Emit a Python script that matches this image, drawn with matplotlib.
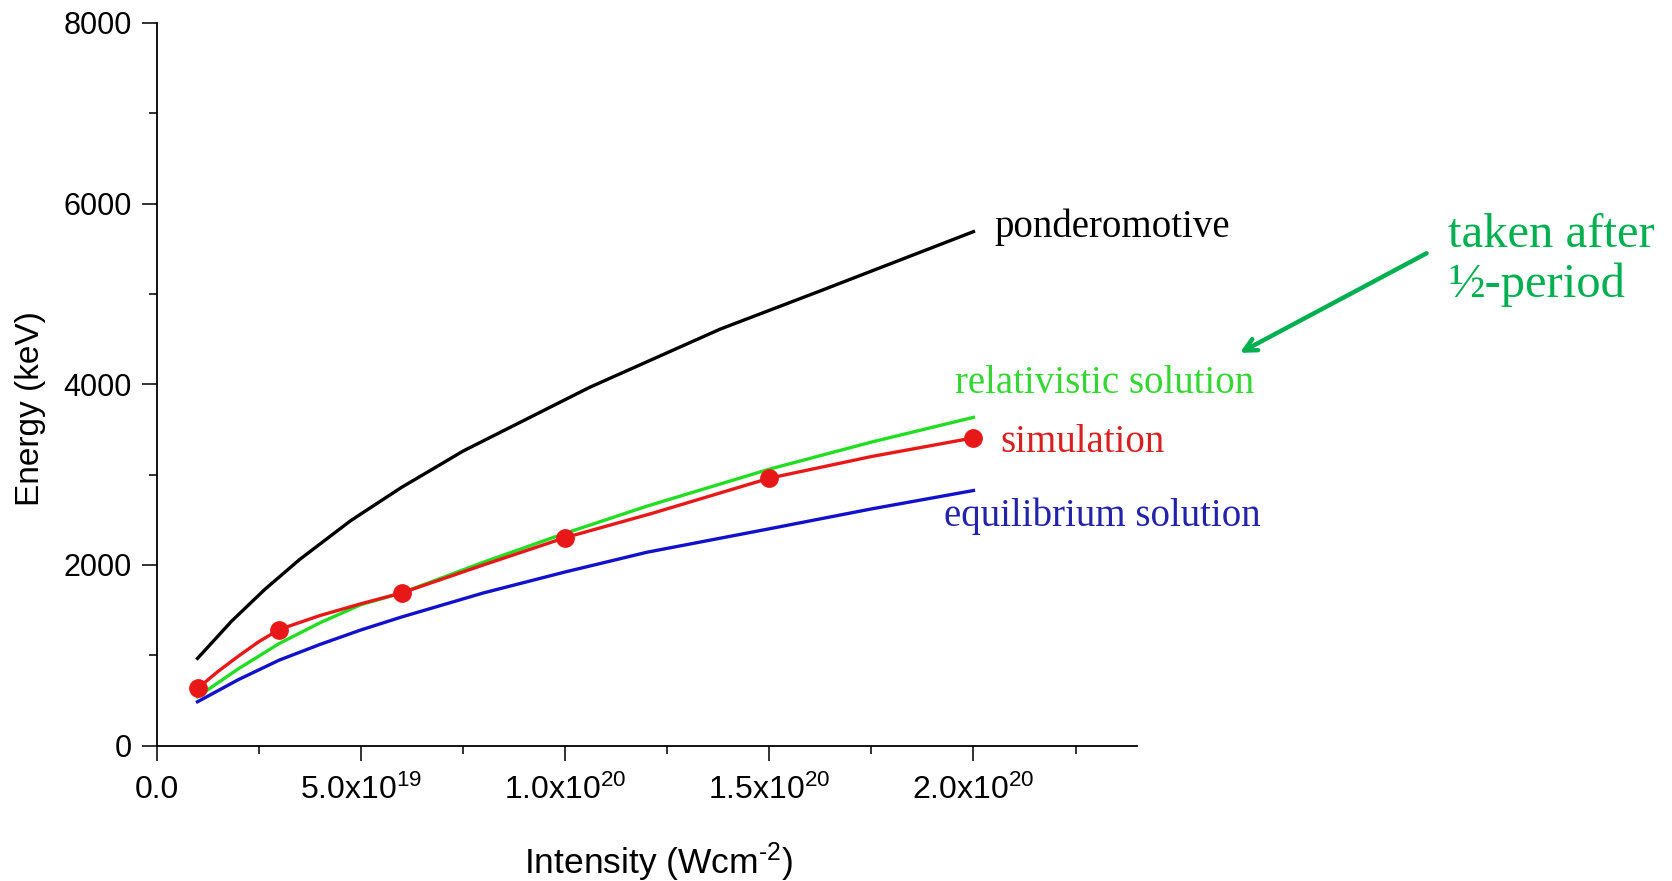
import matplotlib
matplotlib.use('Agg')
import matplotlib.pyplot as plt
from matplotlib.ticker import MultipleLocator, FixedLocator, FixedFormatter

plt.rcParams['font.family'] = ['Liberation Sans', 'DejaVu Sans']
plt.rcParams['mathtext.fontset'] = 'custom'
plt.rcParams['mathtext.rm'] = 'Liberation Sans'
plt.rcParams['mathtext.it'] = 'Liberation Sans:italic'

# values (intensity in W/cm^2, energy in keV)
pond_x = [1.0e19, 1.84e19, 2.65e19, 3.5e19, 4.75e19, 6.0e19, 6.94e19, 7.5e19,
          1.06e20, 1.38e20, 1.625e20, 2.0e20]
pond_y = [965, 1380, 1730, 2060, 2490, 2860, 3110, 3260, 3966, 4611, 5034, 5690]

rel_x = [1.0e19, 2.0e19, 3.0e19, 4.0e19, 5.0e19, 6.0e19, 8.0e19, 1.0e20,
         1.2e20, 1.5e20, 1.75e20, 2.0e20]
rel_y = [540, 850, 1130, 1360, 1560, 1690, 2030, 2350, 2650, 3060, 3360, 3634]

eq_x = [1.0e19, 2.0e19, 3.0e19, 4.0e19, 5.0e19, 6.0e19, 8.0e19, 1.0e20,
        1.2e20, 1.5e20, 1.75e20, 2.0e20]
eq_y = [485, 730, 946, 1120, 1280, 1424, 1690, 1922, 2140, 2400, 2620, 2824]

sim_line_x = [1.0e19, 1.5e19, 2.0e19, 2.5e19, 3.0e19, 4.0e19, 5.0e19, 6.0e19,
              8.0e19, 1.0e20, 1.21e20, 1.5e20, 1.75e20, 2.0e20]
sim_line_y = [633, 820, 990, 1150, 1285, 1440, 1570, 1690, 2000, 2302, 2567,
              2960, 3200, 3407]
sim_pts_x = [1.0e19, 3.0e19, 6.0e19, 1.0e20, 1.5e20, 2.0e20]
sim_pts_y = [633, 1285, 1690, 2302, 2960, 3407]

x_ticks = [0, 5e19, 1e20, 1.5e20, 2e20]
x_tick_labels = ['0.0', '5.0x10$^{19}$', '1.0x10$^{20}$', '1.5x10$^{20}$', '2.0x10$^{20}$']
y_ticks = [0, 2000, 4000, 6000, 8000]

fig = plt.figure(figsize=(16.72, 8.81), dpi=100)
ax = fig.add_axes([0.0937, 0.1537, 0.5862, 0.8202])

ax.plot(pond_x, pond_y, color='black', lw=2.4)
ax.plot(rel_x, rel_y, color='#22dd22', lw=2.4)
ax.plot(eq_x, eq_y, color='#1111cc', lw=2.4)
ax.plot(sim_line_x, sim_line_y, color='#e81818', lw=2.4)
ax.plot(sim_pts_x, sim_pts_y, 'o', color='#e81818', ms=12.5)

ax.set_xlim(0, 2.4e20)
ax.set_ylim(0, 8000)
ax.xaxis.set_major_locator(FixedLocator(x_ticks))
ax.xaxis.set_major_formatter(FixedFormatter(x_tick_labels))
ax.xaxis.set_minor_locator(MultipleLocator(2.5e19))
ax.yaxis.set_major_locator(FixedLocator(y_ticks))
ax.yaxis.set_minor_locator(MultipleLocator(1000))

for side in ['top', 'right']:
    ax.spines[side].set_visible(False)
for side in ['left', 'bottom']:
    ax.spines[side].set_linewidth(1.3)
ax.tick_params(which='major', length=11, width=1.3, labelsize=22, color='#222222')
ax.tick_params(which='minor', length=6, width=1.3, color='#222222')
ax.tick_params(axis='y', which='major', pad=7)
ax.tick_params(axis='x', which='major', pad=10, labelsize=23)

ax.set_xlabel(r'Intensity (Wcm$^{\text{-2}}$)', fontsize=25.5)
ax.set_ylabel('Energy (keV)', fontsize=24)
ax.xaxis.set_label_coords(0.512, -0.161)
ax.xaxis.label.set_va('center')
ax.yaxis.set_label_coords(-0.129, 0.466)
ax.yaxis.label.set_va('center')

serif = ['Liberation Serif', 'DejaVu Serif']
ax.text(2.052e20, 5734, 'ponderomotive', family=serif, fontsize=28, color='black', va='center')
ax.text(1.954e20, 4011, 'relativistic solution', family=serif, fontsize=28, color='#33d633', va='center')
ax.text(2.067e20, 3355, 'simulation', family=serif, fontsize=28, color='#d92020', va='center')
ax.text(1.927e20, 2542, 'equilibrium solution', family=serif, fontsize=28, color='#2222aa', va='center')

fig.text(0.866, 0.705, 'taken after\n½-period', family=serif, fontsize=35,
         color='#00b050', va='center', ha='left', linespacing=1.15)
ax.annotate('', xy=(0.740, 0.598), xytext=(0.8547, 0.714),
            xycoords='figure fraction', textcoords='figure fraction',
            arrowprops=dict(arrowstyle='->,head_length=0.9,head_width=0.45',
                            color='#00b050', lw=3.2))

fig.savefig('out.png', dpi=100)
